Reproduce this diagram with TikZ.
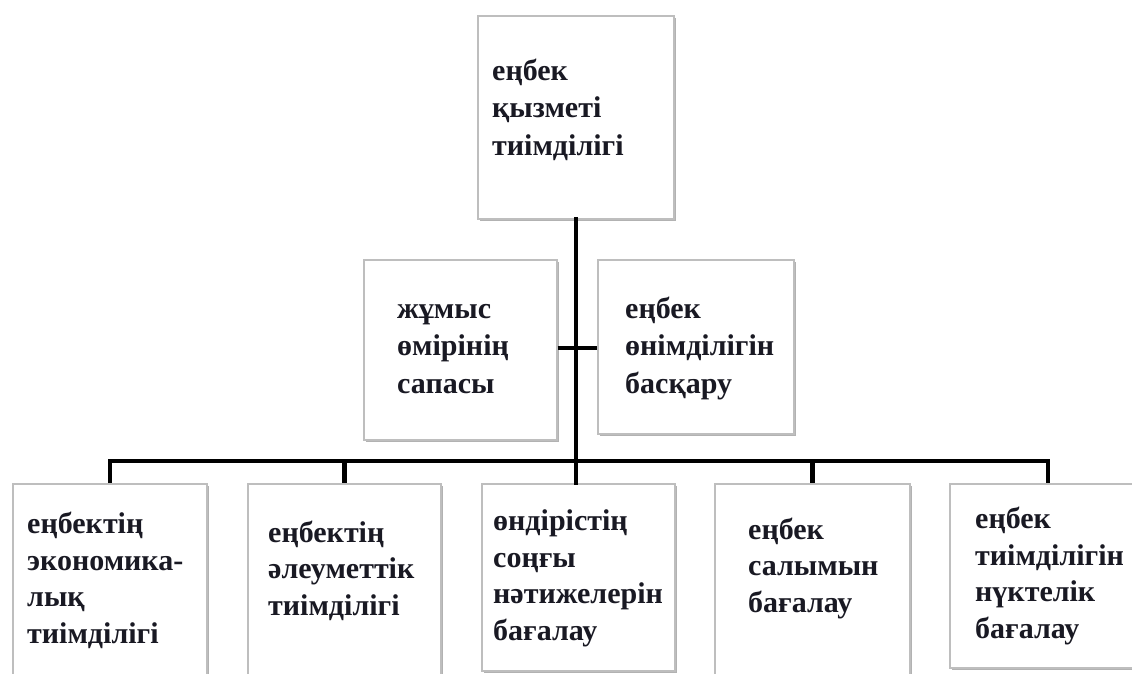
\documentclass[tikz,border=0pt]{standalone}
\usepackage{fontspec}
\setmainfont{Liberation Serif}
\usetikzlibrary{shadows}
\definecolor{boxline}{RGB}{190,190,190}
\definecolor{txt}{RGB}{25,25,35}
\tikzset{
  box/.style={draw=boxline, line width=1.6pt, fill=white, anchor=north west, inner sep=0pt,
    drop shadow={shadow xshift=2pt, shadow yshift=-2.5pt, fill=black, opacity=.3}},
  lbl/.style={anchor=base west, align=left, inner sep=0pt, text=txt,
    font=\fontsize{30}{36.5}\selectfont\bfseries},
  lblw/.style={lbl, font=\fontsize{30}{37.5}\selectfont\bfseries},
  conn/.style={line width=4.5pt, draw=black, line cap=rect}
}
\begin{document}
\begin{tikzpicture}[x=1pt,y=-1pt]
\useasboundingbox (0,0) rectangle (1132,673);
\fill[white] (0,0) rectangle (1132,673);
% boxes
\node[box, minimum width=196pt, minimum height=203pt] (top) at (477,15) {};
\node[box, minimum width=193pt, minimum height=180pt] (m1) at (363,259) {};
\node[box, minimum width=196pt, minimum height=174pt] (m2) at (597,259) {};
\node[box, minimum width=194pt, minimum height=195pt] (b1) at (12,483) {};
\node[box, minimum width=193pt, minimum height=195pt] (b2) at (247,483) {};
\node[box, minimum width=193pt, minimum height=187pt] (b3) at (481,483) {};
\node[box, minimum width=195pt, minimum height=195pt] (b4) at (714,483) {};
\node[box, minimum width=196pt, minimum height=184pt] (b5) at (949,483) {};
% connectors
\coordinate (bar) at (576,461);
\draw[conn] (top.south -| bar) -- (b3.north -| bar);
\draw[conn, line cap=butt] (m1.east |- 0,348) -- (m2.west |- 0,348);
\draw[conn, line join=miter, line cap=butt] (b1.north) -- (b1.north |- bar) -- (b5.north |- bar) -- (b5.north);
\draw[conn, line cap=butt] (b2.north |- bar) -- (b2.north);
\draw[conn, line cap=butt] (b4.north |- bar) -- (b4.north);
% labels (anchored at the baseline of the last line)
\node[lblw] (ttop) at (492,155) {еңбек\\қызметі\\тиімділігі};
\node[lblw] (tm1) at (397,393) {жұмыс\\өмірінің\\сапасы};
\node[lblw] (tm2) at (625,393) {еңбек\\өнімділігін\\басқару};
\node[lbl] (tb1) at (27,643) {еңбектің\\экономика-\\лық\\тиімділігі};
\node[lbl] (tb2) at (268,615) {еңбектің\\әлеуметтік\\тиімділігі};
\node[lbl] (tb3) at (493,640) {өндірістің\\соңғы\\нәтижелерін\\бағалау};
\node[lbl] (tb4) at (748,612) {еңбек\\салымын\\бағалау};
\node[lbl] (tb5) at (975,638) {еңбек\\тиімділігін\\нүктелік\\бағалау};
\end{tikzpicture}
\end{document}
